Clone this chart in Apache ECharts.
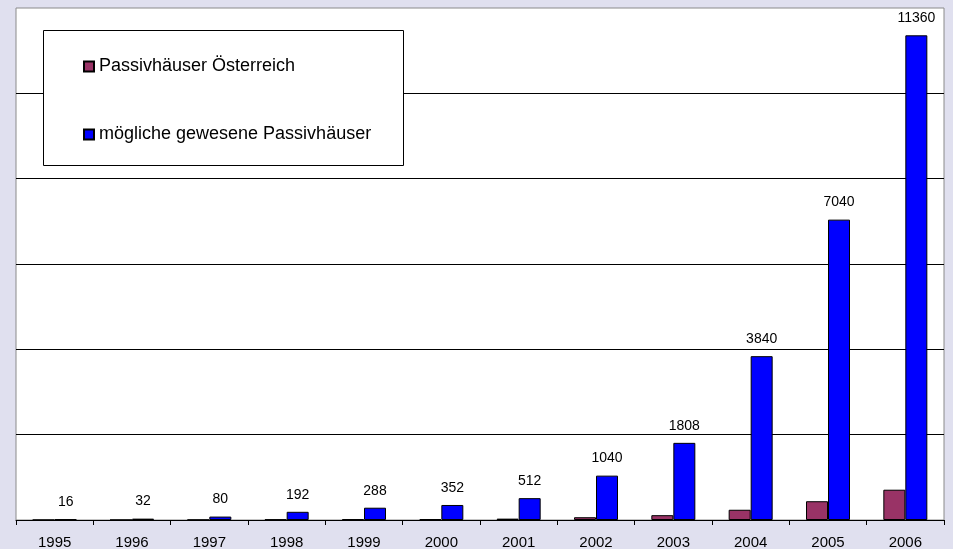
<!DOCTYPE html>
<html>
<head>
<meta charset="utf-8">
<script src="https://cdn.jsdelivr.net/npm/echarts@6/dist/echarts.min.js"></script>
<style>
html,body{margin:0;padding:0;background:#e0e0ef;}
#chart{width:953px;height:549px;}
</style>
</head>
<body>
<div id="chart"></div>
<script>
const years = ['1995','1996','1997','1998','1999','2000','2001','2002','2003','2004','2005','2006'];
const passivAT = [1, 2, 5, 12, 18, 22, 32, 65, 113, 240, 440, 710];
const moeglich = [16, 32, 80, 192, 288, 352, 512, 1040, 1808, 3840, 7040, 11360];
const seriesNames = ['Passivhäuser Österreich', 'mögliche gewesene Passivhäuser'];

const FONT = 'Liberation Sans, Arial, sans-serif';
const chart = echarts.init(document.getElementById('chart'), null, {renderer: 'canvas'});
chart.setOption({
  backgroundColor: '#e0e0ef',
  animation: false,
  textStyle: {fontFamily: FONT, color: '#000'},
  grid: {
    left: 16, right: 9, top: 8, bottom: 29,
    outerBoundsMode: 'none', containLabel: false,
    show: true, backgroundColor: '#ffffff', borderColor: '#8a8a8a', borderWidth: 1
  },
  graphic: [{
    type: 'rect', left: 43, top: 30, z: 5,
    shape: {width: 360, height: 135},
    style: {fill: '#ffffff', stroke: '#000000', lineWidth: 1}
  }],
  legend: {
    orient: 'vertical', left: 78, top: 52, z: 10,
    itemWidth: 10, itemHeight: 10, itemGap: 49, icon: 'rect',
    textStyle: {fontFamily: FONT, fontSize: 18, color: '#000', lineHeight: 19},
    data: seriesNames
  },
  xAxis: {
    type: 'category', data: years,
    axisLine: {show: true, lineStyle: {color: '#000', width: 1}},
    axisTick: {show: true, interval: 0, length: 5, inside: false, alignWithLabel: false, lineStyle: {color: '#000'}},
    axisLabel: {interval: 0, fontFamily: FONT, fontSize: 15, color: '#000', margin: 15},
    splitLine: {show: false}
  },
  yAxis: {
    type: 'value', min: 0, max: 12000, interval: 2000,
    axisLine: {show: false}, axisTick: {show: false}, axisLabel: {show: false},
    splitLine: {show: true, showMinLine: false, showMaxLine: false, lineStyle: {color: '#000', width: 1}}
  },
  series: [{
    name: seriesNames[0], type: 'bar', data: passivAT,
    barWidth: 22, barGap: '0%',
    itemStyle: {color: '#993366', borderColor: '#000', borderWidth: 1}
  }, {
    name: seriesNames[1], type: 'bar', data: moeglich,
    barWidth: 22, barGap: '0%',
    itemStyle: {color: '#0000ff', borderColor: '#000', borderWidth: 1},
    label: {show: true, position: 'top', distance: 10, fontFamily: FONT, fontSize: 14, color: '#000'}
  }]
});
</script>
</body>
</html>
